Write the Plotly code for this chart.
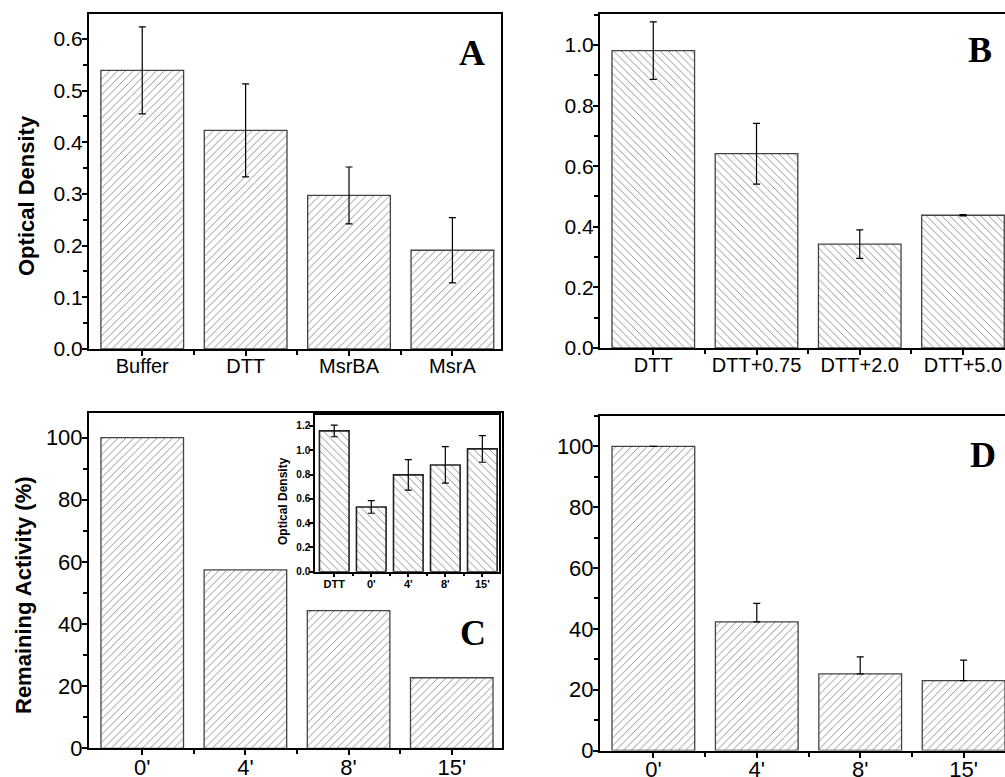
import plotly.graph_objects as go

# ---- data ----
a_cats = ["Buffer", "DTT", "MsrBA", "MsrA"]
a_vals = [0.539, 0.423, 0.297, 0.191]
a_err = [0.084, 0.090, 0.055, 0.063]

b_cats = ["DTT", "DTT+0.75", "DTT+2.0", "DTT+5.0"]
b_vals = [0.981, 0.641, 0.343, 0.438]
b_err = [0.095, 0.100, 0.047, 0.002]

c_cats = ["0'", "4'", "8'", "15'"]
c_vals = [100, 57.4, 44.3, 22.7]

inset_cats = ["DTT", "0'", "4'", "8'", "15'"]
inset_vals = [1.159, 0.533, 0.797, 0.879, 1.011]
inset_err = [0.048, 0.052, 0.125, 0.150, 0.110]

d_cats = ["0'", "4'", "8'", "15'"]
d_vals = [100, 42.3, 25.2, 23.0]
d_err_plus = [None, 6.1, 5.6, 6.7]

W, H = 1005, 777
FONT = "Liberation Sans, Arial, sans-serif"
SERIF = "Liberation Serif, Times New Roman, serif"


def px(x):
    return x / W


def py(y):
    return 1 - y / H


def bar(cats, vals, shape, xa, ya, err=None, err_plus=None, lw=1.3, lc="#444"):
    kw = {}
    if err is not None:
        kw["error_y"] = dict(type="data", array=err, visible=True, color="black",
                             thickness=1.2, width=3.5)
    if err_plus is not None:
        kw["error_y"] = dict(type="data", symmetric=False, array=err_plus,
                             arrayminus=[0 if e is not None else None for e in err_plus],
                             visible=True, color="black", thickness=1.2, width=3.5)
    return go.Bar(
        x=list(range(len(cats))), y=vals, width=0.8, xaxis=xa, yaxis=ya,
        marker=dict(color="white", line=dict(color=lc, width=lw),
                    pattern=dict(shape=shape, fgcolor="#8c8c8c", bgcolor="white",
                                 size=5.5, solidity=0.17, fillmode="replace")),
        showlegend=False, hoverinfo="skip", **kw)


fig = go.Figure()
fig.add_trace(bar(a_cats, a_vals, "/", "x", "y", err=a_err))
fig.add_trace(bar(b_cats, b_vals, "\\", "x2", "y2", err=b_err))
fig.add_trace(bar(c_cats, c_vals, "/", "x3", "y3"))
fig.add_trace(bar(d_cats, d_vals, "/", "x4", "y4", err_plus=d_err_plus))
fig.add_trace(bar(inset_cats, inset_vals, "\\", "x5", "y5", err=inset_err, lw=1.6, lc="#222"))


def xaxis(dom, rng, cats, anchor, size, mirror=True, lw=2, bold=False, tl=5, so=-7):
    return dict(domain=dom, range=rng, anchor=anchor, tickmode="array", automargin=False,
                tickvals=list(range(len(cats))), ticktext=cats, ticklabelstandoff=so,
                ticks="outside", ticklen=tl, tickwidth=1.5, tickcolor="black",
                showline=True, linecolor="black", linewidth=lw, mirror=mirror,
                showgrid=False, zeroline=False, fixedrange=True,
                minor=dict(tickmode="array", tickvals=[i + 0.5 for i in range(len(cats) - 1)],
                           ticks="outside", ticklen=tl - 1, tickwidth=1.5, tickcolor="black"),
                tickfont=dict(family=FONT, size=size, color="black",
                              weight="bold" if bold else "normal"))


def yaxis(dom, rng, dtick, minor_dtick, anchor, size, fmt, mirror=True, lw=2, bold=False,
          tl=5, so=-5):
    return dict(domain=dom, range=rng, anchor=anchor, tickmode="linear", tick0=0,
                dtick=dtick, tickformat=fmt, automargin=False, ticklabelstandoff=so,
                ticks="outside", ticklen=tl, tickwidth=1.5, tickcolor="black",
                showline=True, linecolor="black", linewidth=lw, mirror=mirror,
                showgrid=False, zeroline=False, fixedrange=True,
                minor=dict(tick0=0, dtick=minor_dtick, ticks="outside", ticklen=tl - 1,
                           tickwidth=1.5, tickcolor="black") if minor_dtick else None,
                tickfont=dict(family=FONT, size=size, color="black",
                              weight="bold" if bold else "normal"))


fig.update_layout(
    width=W, height=H, margin=dict(l=0, r=0, t=0, b=0, autoexpand=False),
    paper_bgcolor="white", plot_bgcolor="white", bargap=0.2,
    xaxis=xaxis([px(89), px(501)], [-0.515, 3.47], a_cats, "y", 20),
    yaxis=yaxis([py(349), py(14)], [0, 0.648], 0.1, 0.05, "x", 21, ".1f"),
    xaxis2=xaxis([px(600), 1.0], [-0.516, 3.407], b_cats, "y2", 20),
    yaxis2=yaxis([py(348), py(14)], [0, 1.102], 0.2, 0.1, "x2", 21, ".1f", mirror=False),
    xaxis3=xaxis([px(89), px(502)], [-0.516, 3.487], c_cats, "y3", 22),
    yaxis3=yaxis([py(748.3), py(412.7)], [0, 108], 20, 10, "x3", 22, "d"),
    xaxis4=xaxis([px(600), 1.0], [-0.516, 3.40], d_cats, "y4", 22),
    yaxis4=yaxis([py(750.5), py(416)], [0, 110], 20, 10, "x4", 22, "d", mirror=False),
    xaxis5=xaxis([px(315), px(499)], [-0.52, 4.45], inset_cats, "y5", 11, lw=1.5, bold=True,
                 tl=4, so=-3),
    yaxis5=yaxis([py(571.7), py(415)], [0, 1.29], 0.2, None, "x5", 10, ".1f", lw=1.5,
                 bold=True, tl=4, so=-3),
)

annots = [
    dict(text="<b>Optical Density</b>", x=px(27), y=py(196), textangle=-90,
         font=dict(family=FONT, size=22, color="black")),
    dict(text="<b>Remaining Activity (%)</b>", x=px(23), y=py(595), textangle=-90,
         font=dict(family=FONT, size=22, color="black")),
    dict(text="<b>Optical Density</b>", x=px(283), y=py(501), textangle=-90,
         font=dict(family=FONT, size=12, color="black")),
    dict(text="<b>A</b>", x=px(472), y=py(53), font=dict(family=SERIF, size=36, color="black")),
    dict(text="<b>B</b>", x=px(980), y=py(50), font=dict(family=SERIF, size=36, color="black")),
    dict(text="<b>C</b>", x=px(473), y=py(633), font=dict(family=SERIF, size=36, color="black")),
    dict(text="<b>D</b>", x=px(983), y=py(455), font=dict(family=SERIF, size=36, color="black")),
]
for a in annots:
    a.update(xref="paper", yref="paper", showarrow=False, xanchor="center", yanchor="middle")
fig.update_layout(annotations=annots)

fig.write_html("out.html", config={"displayModeBar": False},
               post_script="document.body.style.margin='0';document.body.style.overflow='hidden';")
